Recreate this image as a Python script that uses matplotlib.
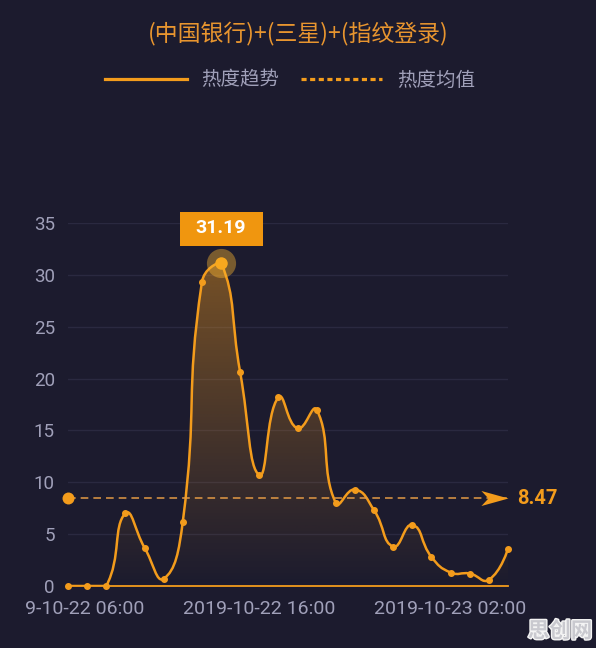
import numpy as np
import matplotlib
matplotlib.use('Agg')
import matplotlib.pyplot as plt
from matplotlib.path import Path
from matplotlib.patches import PathPatch, Rectangle
from matplotlib.lines import Line2D
from matplotlib import transforms as mtransforms
from matplotlib.font_manager import FontProperties
from matplotlib.colors import to_rgb
import matplotlib.patheffects as pe

# ---------------- data ----------------
title = '(中国银行)+(三星)+(指纹登录)'
series_name = '热度趋势'
mean_name = '热度均值'
hours = ['2019-10-22 06:00', '2019-10-22 07:00', '2019-10-22 08:00', '2019-10-22 09:00',
         '2019-10-22 10:00', '2019-10-22 11:00', '2019-10-22 12:00', '2019-10-22 13:00',
         '2019-10-22 14:00', '2019-10-22 15:00', '2019-10-22 16:00', '2019-10-22 17:00',
         '2019-10-22 18:00', '2019-10-22 19:00', '2019-10-22 20:00', '2019-10-22 21:00',
         '2019-10-22 22:00', '2019-10-22 23:00', '2019-10-23 00:00', '2019-10-23 01:00',
         '2019-10-23 02:00', '2019-10-23 03:00', '2019-10-23 04:00', '2019-10-23 05:00']
values = [0, 0, 0, 7.0, 3.7, 0.7, 6.2, 29.3, 31.19, 20.6, 10.7, 18.2,
          15.2, 17.0, 8.0, 9.3, 7.3, 3.8, 5.9, 2.8, 1.3, 1.2, 0.6, 3.6]
mean_value = 8.47
shown_ticks = [0, 10, 20]
y_ticks = [0, 5, 10, 15, 20, 25, 30, 35]
watermark = '思创网'

# ---------------- style ----------------
BG = '#1c1b2e'
ORANGE = '#f39c1c'
TITLE_C = '#e8952f'
GREY = '#a0a0b9'
GRID = '#2a2940'
CJK = ['Noto Sans CJK SC', 'DejaVu Sans']
NUM = ['Roboto', 'DejaVu Sans']

fig = plt.figure(figsize=(5.96, 6.48), dpi=100, facecolor=BG)
ax = fig.add_axes([68 / 596, 62 / 648, 440 / 596, 363 / 648], facecolor=BG)
x = np.arange(len(values))
y = np.array(values, dtype=float)
ax.set_xlim(0, len(values) - 1)
ax.set_ylim(0, 35)


def smooth_path(xs, ys, smooth=0.5):
    pts = ax.transData.transform(np.column_stack([xs, ys]))
    n = len(pts)
    lo = pts.min(axis=0)
    hi = pts.max(axis=0)
    cp_in = pts.copy()
    cp_out = pts.copy()
    for i in range(1, n - 1):
        prev, cur, nxt = pts[i - 1], pts[i], pts[i + 1]
        v = (nxt - prev) * smooth
        d0 = np.hypot(*(cur - prev))
        d1 = np.hypot(*(cur - nxt))
        s = d0 + d1
        if s > 0:
            d0 /= s
            d1 /= s
        cp_in[i] = np.clip(cur - v * d0, lo, hi)
        cp_out[i] = np.clip(cur + v * d1, lo, hi)
    verts = [pts[0]]
    codes = [Path.MOVETO]
    for i in range(n - 1):
        verts += [cp_out[i], cp_in[i + 1], pts[i + 1]]
        codes += [Path.CURVE4] * 3
    verts = ax.transData.inverted().transform(np.array(verts))
    return verts, codes


verts, codes = smooth_path(x, y)

# area with gradient
area_verts = np.vstack([verts, [[x[-1], 0], [x[0], 0], [x[0], 0]]])
area_codes = codes + [Path.LINETO, Path.LINETO, Path.CLOSEPOLY]
area_patch = PathPatch(Path(area_verts, area_codes), facecolor='none',
                       edgecolor='none', transform=ax.transData)
ax.add_patch(area_patch)
r, g, b = to_rgb(ORANGE)
grad = np.zeros((256, 1, 4))
grad[:, 0, 0] = r
grad[:, 0, 1] = g
grad[:, 0, 2] = b
grad[:, 0, 3] = np.linspace(0.0, 0.42, 256)
im = ax.imshow(grad, extent=[x[0], x[-1], 0, y.max()], origin='lower',
               aspect='auto', zorder=1, interpolation='bilinear')
im.set_clip_path(area_patch)

# line
line_patch = PathPatch(Path(verts, codes), facecolor='none', edgecolor=ORANGE,
                       lw=1.8, zorder=3, capstyle='round', joinstyle='round')
ax.add_patch(line_patch)
ax.plot(x, y, 'o', color=ORANGE, ms=4, zorder=4, clip_on=False)

# peak highlight
ipk = int(np.argmax(y))
ax.plot([x[ipk]], [y[ipk]], 'o', color='#f9b531', ms=21, alpha=0.42, mec='none',
        zorder=5, clip_on=False)
ax.plot([x[ipk]], [y[ipk]], 'o', color='#f7a81e', ms=9, mec='none', zorder=6,
        clip_on=False)
trans = mtransforms.Affine2D() + mtransforms.ScaledTranslation(x[ipk], y[ipk], ax.transData)
ax.add_patch(Rectangle((-41.5, 17), 83, 34, transform=trans, facecolor='#f0960f',
                       edgecolor='none', clip_on=False, zorder=7))
ax.annotate(f'{y[ipk]:.2f}', xy=(x[ipk], y[ipk]), xytext=(0, 24.5),
            textcoords='offset points', ha='center', va='center', color='white',
            fontsize=14, fontweight='bold', family=NUM, zorder=8,
            annotation_clip=False)

# mean line
ax.plot([x[0], x[-1]], [mean_value, mean_value], color='#e39a45', lw=1.1,
        dashes=(5, 3.3), zorder=3, clip_on=False)
ax.plot([x[0]], [mean_value], 'o', color=ORANGE, ms=8.6, mec='none', zorder=5,
        clip_on=False)
arrow_marker = Path([(0, 0), (-27, 7.5), (-20, 0), (-27, -7.5), (0, 0)],
                    [Path.MOVETO, Path.LINETO, Path.LINETO, Path.LINETO, Path.CLOSEPOLY])
ax.plot([x[-1]], [mean_value], marker=arrow_marker, ms=39, color=ORANGE,
        mec='none', zorder=5, clip_on=False)
ax.annotate(f'{mean_value:.2f}', xy=(x[-1], mean_value), xytext=(6.5, 0),
            textcoords='offset points', ha='left', va='center', color=ORANGE,
            fontsize=14.5, fontweight='bold', family=NUM, annotation_clip=False)

# axes styling
for s in ['top', 'right', 'left']:
    ax.spines[s].set_visible(False)
ax.spines['bottom'].set_color(ORANGE)
ax.spines['bottom'].set_linewidth(1.3)
ax.spines['bottom'].set_zorder(3)
ax.set_yticks(y_ticks)
ax.set_yticklabels([str(t) for t in y_ticks])
ax.set_xticks(shown_ticks)
ax.set_xticklabels([hours[i] for i in shown_ticks])
ax.tick_params(axis='both', length=0, colors=GREY)
ax.tick_params(axis='y', pad=9.5, labelsize=13.5)
ax.tick_params(axis='x', pad=10, labelsize=14)
for lab in ax.get_xticklabels() + ax.get_yticklabels():
    lab.set_family(NUM)
ax.yaxis.grid(True, color=GRID, lw=1)
ax.set_axisbelow(True)
first = ax.get_xticklabels()[0]
first.set_clip_box(mtransforms.Bbox.from_extents(24, 0, 700, 700))
first.set_clip_on(True)

# title & legend
fig.text(298 / 596, 1 - 33 / 648, title, ha='center', va='center', color=TITLE_C,
         fontsize=16.5, family=CJK)
handles = [Line2D([], [], color=ORANGE, lw=2.3),
           Line2D([], [], color=ORANGE, lw=2.3, linestyle=(0, (1.6, 1.1)))]
fig.legend(handles=handles, labels=[series_name, mean_name], loc='center',
           bbox_to_anchor=(290 / 596, 1 - 80 / 648), ncol=2, frameon=False,
           handlelength=4.2, handletextpad=0.75, columnspacing=1.1,
           prop=FontProperties(family=CJK, size=14), labelcolor=GREY)

fig.text(560 / 596, 1 - 631 / 648, watermark, ha='center', va='center',
         color='#c9c9cf', fontsize=15.5, fontweight='bold', family=CJK,
         path_effects=[pe.withStroke(linewidth=2, foreground='#f4f4f4')])

fig.savefig('out.png', dpi=100, facecolor=BG)
